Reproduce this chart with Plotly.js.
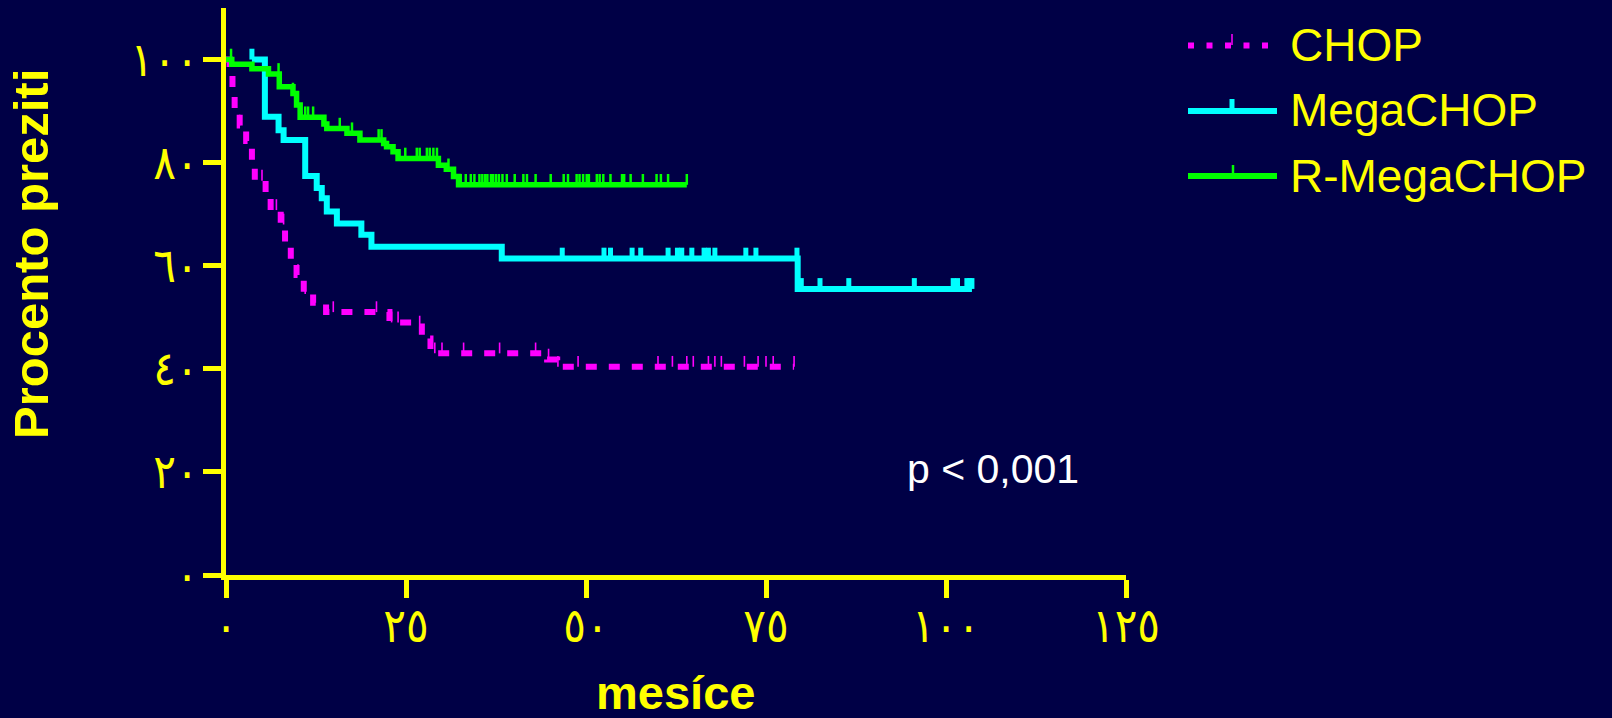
<!DOCTYPE html>
<html>
<head>
<meta charset="utf-8">
<script src="https://cdn.plot.ly/plotly-3.0.1.min.js"></script>
<style>html,body{margin:0;padding:0;background:#000046;}#chart{width:1612px;height:718px;}</style>
</head>
<body>
<div id="chart"></div>
<script>
// ---- Data ----
const seriesNames = ['CHOP', 'MegaCHOP', 'R-MegaCHOP'];

// CHOP (Kaplan-Meier steps)
const chopTime = [0, 0.5, 0.9, 1.2, 1.9, 2.8, 3.6, 4.0, 5.5, 6.2, 7.6, 8.2, 9.0, 9.8, 10.8, 12.1, 13.9, 22.7, 26.5, 27.2, 28.4, 44.6, 46.0];
const chopSurv = [100, 98.2, 94.5, 90.5, 87.2, 84.2, 80.5, 76.5, 74.0, 70.8, 68.0, 63.8, 60.5, 58.2, 54.5, 52.8, 51.0, 49.0, 48.2, 45.9, 43.0, 41.8, 40.4];
const chopEnd = 78.9;
const chopCensor = [1.9, 5.0, 7.0, 8.0, 10.0, 11.0, 14.9, 20.9, 23.0, 23.9, 26.9, 29.0, 30.0, 33.0, 38.0, 43.0, 44.8, 46.1, 48.9, 60.0, 62.0, 64.0, 64.9, 67.0, 67.9, 68.8, 72.0, 73.9, 75.0, 76.0, 78.9];

// MegaCHOP
const megaTime = [3.6, 5.4, 7.3, 8.0, 11.0, 12.6, 13.3, 14.0, 15.4, 18.8, 20.2, 38.3, 79.4];
const megaSurv = [100, 88.9, 86.3, 84.4, 77.4, 75.1, 73.1, 70.5, 68.2, 66.0, 63.7, 61.4, 55.5];
const megaEnd = 103.6;
const megaCensor = [3.6, 46.7, 52.5, 53.4, 56.4, 57.6, 61.4, 62.7, 63.3, 64.7, 66.4, 67.0, 67.9, 72.2, 73.6, 79.3, 79.9, 82.5, 86.5, 95.6, 101.0, 101.6, 102.9, 103.3, 103.6];

// R-MegaCHOP
const rmegaTime = [0, 0.8, 3.6, 5.9, 7.4, 9.3, 9.8, 10.3, 13.6, 14.0, 16.8, 18.6, 21.9, 22.3, 23.2, 23.9, 29.5, 30.6, 31.6, 32.3];
const rmegaSurv = [100, 99.1, 98.2, 97.2, 94.7, 93.4, 91.2, 88.8, 87.5, 86.6, 85.7, 84.4, 83.7, 83.1, 82.1, 80.8, 79.5, 78.7, 77.3, 75.7];
const rmegaEnd = 64.0;
const rmegaCensor = [0.7, 7.3, 9.3, 11.0, 11.4, 12.1, 15.8, 17.5, 21.2, 21.6, 24.9, 26.5, 26.9, 27.9, 28.3, 28.8, 29.3, 30.9,
  32.6, 33.3, 34.0, 34.5, 35.2, 35.6, 36.0, 36.3, 36.8, 37.1, 37.5, 37.9, 38.4, 39.0, 40.1, 41.3, 41.8, 43.0, 45.1,
  46.9, 47.5, 48.7, 49.1, 49.6, 50.1, 50.4, 51.5, 51.9, 52.4, 53.4, 55.0, 55.3, 56.2, 57.9, 59.8, 60.4, 61.4, 64.0];

const xTickVals = [0, 25, 50, 75, 100, 125];
const xTickText = ['٠', '٢٥', '٥٠', '٧٥', '١٠٠', '١٢٥'];
const yTickVals = [0, 20, 40, 60, 80, 100];
const yTickText = ['٠', '٢٠', '٤٠', '٦٠', '٨٠', '١٠٠'];

const xTitle = 'mesíce';
const yTitle = 'Procento preziti';
const pText = 'p < 0,001';

// ---- Helpers ----
function stepXY(t, s, end) {
  return { x: t.concat([end]), y: s.concat([s[s.length - 1]]) };
}
function survAt(t, s, tc) {
  let v = s[0];
  for (let i = 0; i < t.length; i++) if (t[i] <= tc) v = s[i];
  return v;
}

const colors = ['#ff00ff', '#00ffff', '#00ff00'];
const YEL = '#ffff00';
const BG = '#000046';

const series = [
  { t: chopTime, s: chopSurv, end: chopEnd, c: chopCensor, line: { color: colors[0], width: 6, dash: '11px,12px' }, tick: 1.6 },
  { t: megaTime, s: megaSurv, end: megaEnd, c: megaCensor, line: { color: colors[1], width: 6 }, tick: 5 },
  { t: rmegaTime, s: rmegaSurv, end: rmegaEnd, c: rmegaCensor, line: { color: colors[2], width: 5.5 }, tick: 2.5 }
];

const traces = [];
series.forEach((d, i) => {
  const xy = stepXY(d.t, d.s, d.end);
  traces.push({
    type: 'scatter', mode: 'lines', name: seriesNames[i],
    x: xy.x, y: xy.y, line: Object.assign({ shape: 'hv' }, d.line),
    showlegend: false, hoverinfo: 'skip'
  });
});
series.forEach((d, i) => {
  traces.push({
    type: 'scatter', mode: 'markers', name: seriesNames[i] + ' censored',
    x: d.c, y: d.c.map(tc => survAt(d.t, d.s, tc)),
    marker: { size: 1, color: 'rgba(0,0,0,0)' },
    error_y: { type: 'constant', value: 2.1, valueminus: 0, symmetric: false, width: 0, thickness: d.tick, color: colors[i] },
    showlegend: false, hoverinfo: 'skip'
  });
});

// pixel -> paper helpers for legend/annotation placement
const L = 226, R = 1126, T = 8, B = 575;
const px = v => (v - L) / (R - L);
const py = v => (B - v) / (B - T);

const legendY = [45, 110, 175.5];
const shapes = [
  // CHOP legend: dotted magenta with thin tick
  { type: 'line', xref: 'paper', yref: 'paper', x0: px(1188), x1: px(1268), y0: py(45.5), y1: py(45.5), line: { color: colors[0], width: 6, dash: '6px,12.5px' } },
  { type: 'line', xref: 'paper', yref: 'paper', x0: px(1232), x1: px(1232), y0: py(45), y1: py(34), line: { color: colors[0], width: 1.5 } },
  // MegaCHOP legend
  { type: 'line', xref: 'paper', yref: 'paper', x0: px(1188), x1: px(1277), y0: py(111), y1: py(111), line: { color: colors[1], width: 6 } },
  { type: 'line', xref: 'paper', yref: 'paper', x0: px(1232), x1: px(1232), y0: py(111), y1: py(99), line: { color: colors[1], width: 5 } },
  // R-MegaCHOP legend
  { type: 'line', xref: 'paper', yref: 'paper', x0: px(1188), x1: px(1277), y0: py(176), y1: py(176), line: { color: colors[2], width: 6 } },
  { type: 'line', xref: 'paper', yref: 'paper', x0: px(1233), x1: px(1233), y0: py(176), y1: py(165), line: { color: colors[2], width: 2.5 } }
];

const annotations = seriesNames.map((n, i) => ({
  text: n, xref: 'paper', yref: 'paper', x: px(1288), y: py(legendY[i]),
  xanchor: 'left', yanchor: 'middle', showarrow: false,
  font: { family: 'Liberation Sans, Arial, sans-serif', size: 46, color: YEL }
}));
annotations.push({
  text: pText, xref: 'paper', yref: 'paper', x: px(905), y: py(469),
  xanchor: 'left', yanchor: 'middle', showarrow: false,
  font: { family: 'Liberation Sans, Arial, sans-serif', size: 41, color: '#ffffff' }
});
annotations.push({
  text: '<b>' + yTitle + '</b>', xref: 'paper', yref: 'paper', x: px(31), y: py(254),
  xanchor: 'center', yanchor: 'middle', textangle: -90, showarrow: false,
  font: { family: 'Liberation Sans, Arial, sans-serif', size: 49, color: YEL }
});
annotations.push({
  text: '<b>' + xTitle + '</b>', xref: 'paper', yref: 'paper', x: px(675), y: py(692),
  xanchor: 'center', yanchor: 'middle', showarrow: false,
  font: { family: 'Liberation Sans, Arial, sans-serif', size: 47, color: YEL }
});

const axisCommon = {
  showgrid: false, zeroline: false, showline: true, linecolor: YEL, linewidth: 5,
  ticks: 'outside', ticklen: 18, tickwidth: 5, tickcolor: YEL,
  tickfont: { family: 'DejaVu Sans Condensed, DejaVu Sans, sans-serif', size: 47, color: YEL },
  fixedrange: true
};

const layout = {
  width: 1612, height: 718,
  margin: { l: L, r: 1612 - R, t: T, b: 718 - B, pad: 0 },
  paper_bgcolor: BG, plot_bgcolor: BG,
  showlegend: false,
  xaxis: Object.assign({}, axisCommon, { range: [0, 125], tickmode: 'array', tickvals: xTickVals, ticktext: xTickText, ticklabelstandoff: -12 }),
  yaxis: Object.assign({}, axisCommon, { range: [0, 110], tickmode: 'array', tickvals: yTickVals, ticktext: yTickText, ticklabelstandoff: -5 }),
  shapes: shapes,
  annotations: annotations
};

Plotly.newPlot('chart', traces, layout, { displayModeBar: false, staticPlot: true });
</script>
</body>
</html>
